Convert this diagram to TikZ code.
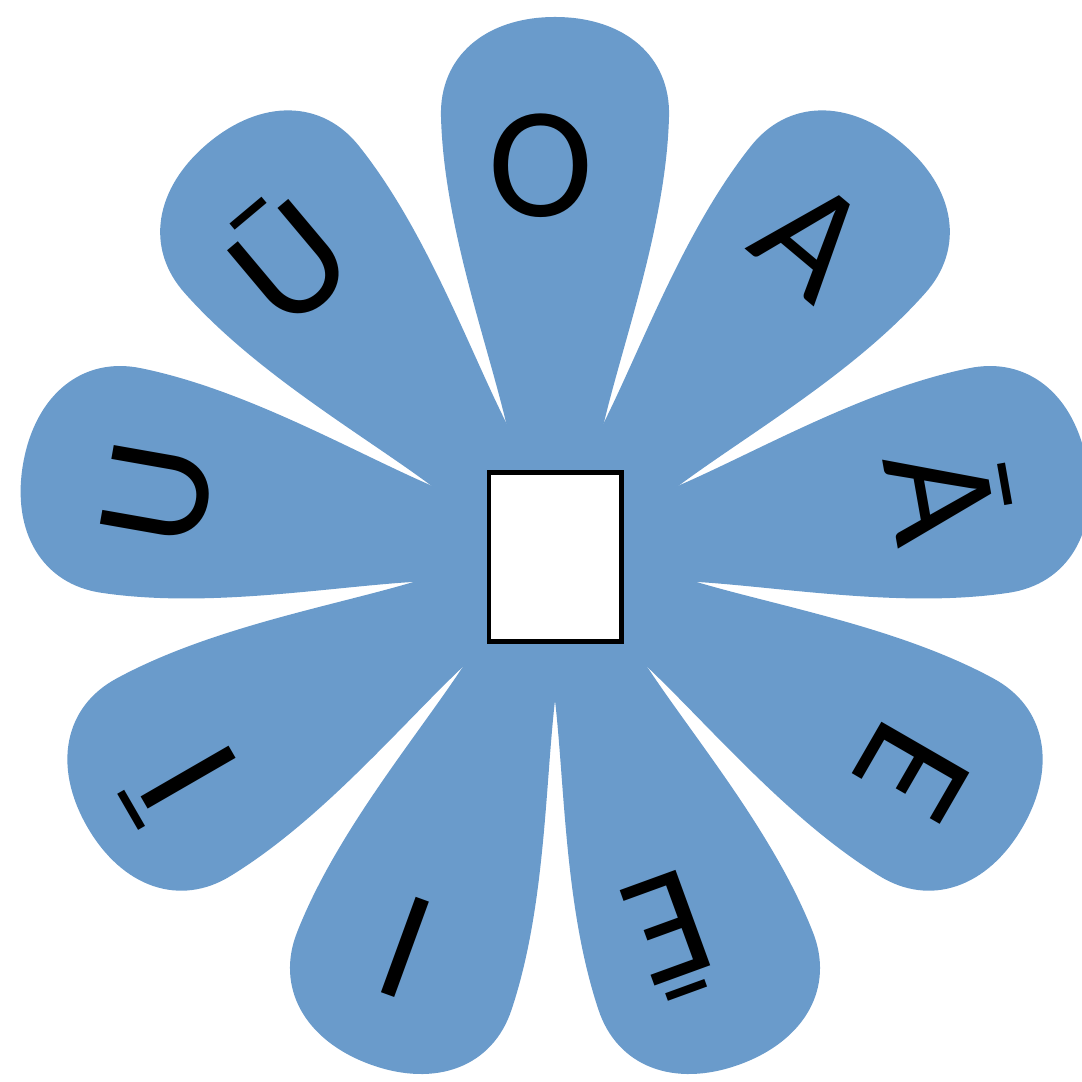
\documentclass[tikz,border=0pt]{standalone}
\usepackage{fontspec}
\setmainfont{Carlito}
\definecolor{petalblue}{RGB}{106,155,203}
\tikzset{
  petal/.style={fill=petalblue},
  vowel/.style={font=\fontsize{45}{45}\selectfont, inner sep=0pt},
  hub/.style={draw, line width=1.4pt, fill=white, minimum width=1.32cm, minimum height=1.68cm}
}
\begin{document}
\begin{tikzpicture}[x=0.01cm, y=0.01cm]
  \useasboundingbox (-555,-525) rectangle (527,557);

  % petals and their vowels
  \foreach \a/\p/\r/\v [count=\i] in {90/92/392/O, 50/51/409/A, 10/9/400/Ā, -30/-31/417/E,
      -70/-73/397/Ē, -110/-111/418/I, -150/-149/437/Ī, 170/171/402/U, 130/132/404/Ū} {
    \fill[petal, rotate=\a-90] (0,0) -- (47,126)
      .. controls (66,210) and (111,330) .. (114,440)
      .. controls (116,500) and (70,540) .. (0,540)
      .. controls (-70,540) and (-116,500) .. (-114,440)
      .. controls (-111,330) and (-66,210) .. (-47,126) -- cycle;
    \node[vowel, rotate=\a-90] (v\i) at (\p:\r) {\v};
  }
  \fill[petal] (0,0) circle (128);

  \node[hub] (box) at (0,0) {};
\end{tikzpicture}
\end{document}
